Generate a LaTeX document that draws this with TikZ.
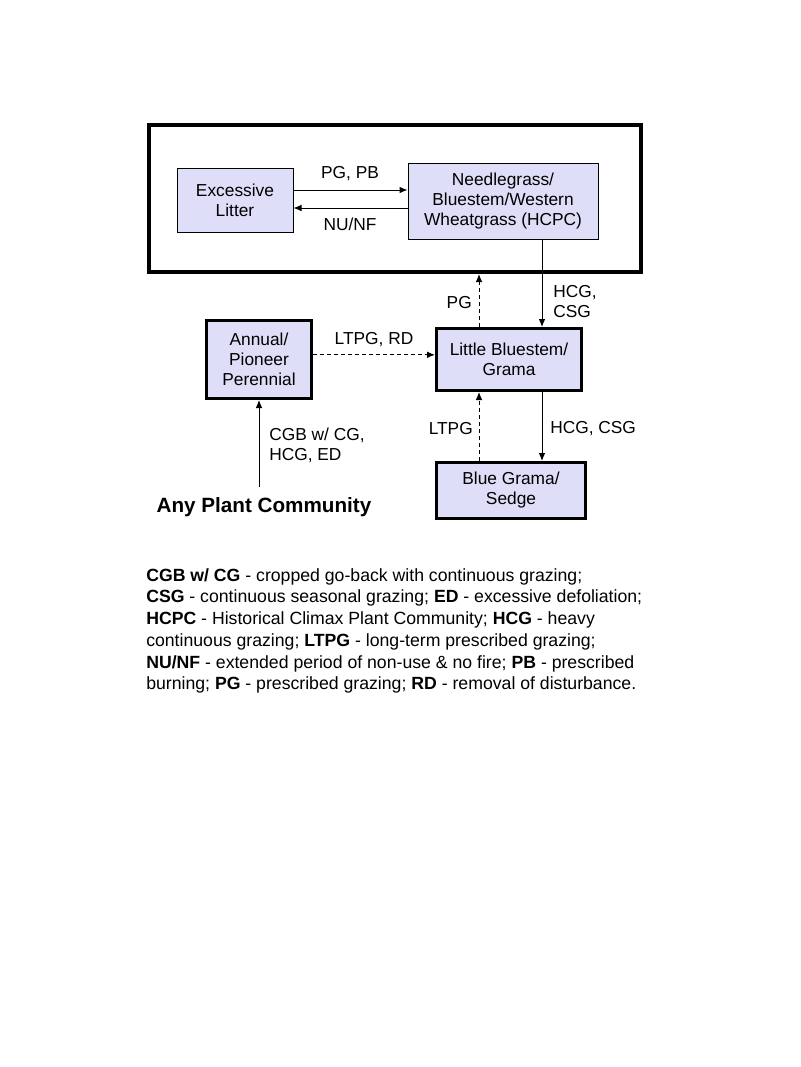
\documentclass[tikz,border=0pt]{standalone}
\usepackage{fontspec}
\setmainfont{Liberation Sans}
\usetikzlibrary{arrows.meta}
\definecolor{boxfill}{RGB}{222,222,248}

\begin{document}
\begin{tikzpicture}[x=0.75pt,y=-0.75pt,>={Latex[length=6pt,width=5pt]},
    box/.style={draw,fill=boxfill,line width=0.75pt,inner sep=0pt,align=center,font=\fontsize{13}{15}\selectfont},
    thickbox/.style={box,line width=2.25pt},
    lbl/.style={inner sep=0pt,align=left,font=\fontsize{13}{15}\selectfont},
    link/.style={->,line width=0.75pt},
    dashlink/.style={link,dash pattern=on 3pt off 2.25pt}]
        \useasboundingbox (0,0) rectangle (800,1067);
        % states
        \node[draw,line width=3pt,minimum width=369pt,minimum height=110.25pt,inner sep=0pt] (frame) at (395,198.5) {};
        \node[box,minimum width=87pt,minimum height=48pt] (litter) at (235,200) {Excessive\\Litter};
        \node[box,minimum width=142.5pt,minimum height=57pt] (needle) at (503,201) {Needlegrass/\\Bluestem/Western\\Wheatgrass (HCPC)};
        \node[thickbox,minimum width=108.75pt,minimum height=46.5pt] (lbg) at (509,359.5) {Little Bluestem/\\Grama};
        \node[thickbox,minimum width=78.75pt,minimum height=58.5pt] (annual) at (259,359.5) {Annual/\\Pioneer\\Perennial};
        \node[thickbox,minimum width=111.75pt,minimum height=42pt] (bgs) at (511,490.5) {Blue Grama/\\Sedge};
        \node[inner sep=0pt,font=\bfseries\fontsize{15.5}{18}\selectfont] (any) at (264,507) {Any Plant Community};
        % transitions
        \draw[link] ([yshift=7.5pt]litter.east) -- ([yshift=7.5pt]litter.east -| needle.west);
        \draw[link] ([yshift=-6pt]litter.east -| needle.west) -- ([yshift=-6pt]litter.east);
        \draw[link] ([xshift=29.25pt]needle.south) -- ([xshift=29.25pt]needle.south |- lbg.north);
        \draw[dashlink] ([xshift=-22.5pt]lbg.north) -- ([xshift=-22.5pt]lbg.north |- frame.south);
        \draw[dashlink] ([yshift=3.5pt]annual.east) -- ([yshift=3.5pt]annual.east -| lbg.west);
        \draw[link] ([xshift=24.75pt]lbg.south) -- ([xshift=24.75pt]lbg.south |- bgs.north);
        \draw[dashlink] ([xshift=-22.5pt]lbg.south |- bgs.north) -- ([xshift=-22.5pt]lbg.south);
        \draw[link] ([yshift=7.5pt]annual.south |- any.north) -- (annual.south);
        % labels
        \node[lbl] (pgpb) at (350,174) {PG, PB};
        \node[lbl] (nunf) at (350,224) {NU/NF};
        \node[lbl,anchor=east] (pgup) at (472,303) {PG};
        \node[lbl,anchor=west] (hcgup) at (553,302) {HCG,\\CSG};
        \node[lbl] (ltpgrd) at (374,340) {LTPG, RD};
        \node[lbl,anchor=west] (cgb) at (269,445) {CGB w/ CG,\\HCG, ED};
        \node[lbl,anchor=east] (ltpg) at (473,429) {LTPG};
        \node[lbl,anchor=west] (hcgdown) at (550,429) {HCG, CSG};
        % legend
        \node[inner sep=0pt,anchor=north west,align=left,font=\fontsize{13.25}{16.3}\selectfont] (legend) at (146,568)
            {\textbf{CGB w/ CG} - cropped go-back with continuous grazing;\\
             \textbf{CSG} - continuous seasonal grazing; \textbf{ED} - excessive defoliation;\\
             \textbf{HCPC} - Historical Climax Plant Community; \textbf{HCG} - heavy\\
             continuous grazing; \textbf{LTPG} - long-term prescribed grazing;\\
             \textbf{NU/NF} - extended period of non-use \& no fire; \textbf{PB} - prescribed\\
             burning; \textbf{PG} - prescribed grazing; \textbf{RD} - removal of disturbance.};
      \end{tikzpicture}
\end{document}
